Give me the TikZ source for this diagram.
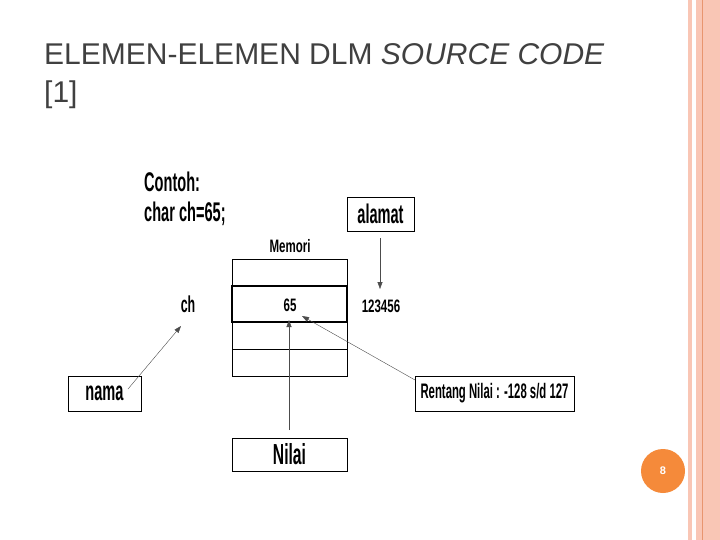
\documentclass[tikz,border=0pt]{standalone}
\usepackage{fontspec}
\setmainfont{Liberation Sans}
\newfontfamily\narrowf[FakeStretch=0.54]{Liberation Sans}
\newfontfamily\narrowg[FakeStretch=0.64]{Liberation Sans}
\definecolor{salmon}{HTML}{F9C6B5}
\definecolor{salmondk}{HTML}{E8956F}
\definecolor{pgorange}{HTML}{F58A3A}
\usetikzlibrary{arrows.meta}
\begin{document}
\begin{tikzpicture}[x=1pt,y=-1pt,
  bx/.style={draw,thick,inner sep=0pt},
  lbl/.style={font=\narrowf\bfseries\fontsize{27}{30}\selectfont,inner sep=0pt},
  sl/.style={font=\narrowg\bfseries\fontsize{18}{20}\selectfont,inner sep=0pt},
  ar/.style={draw=black!70,-{Triangle[length=7pt,width=5pt]}}]
\useasboundingbox (0,0) rectangle (720,540);
\fill[white] (0,0) rectangle (720,540);
\fill[salmon] (688,0) rectangle (692,540);
\fill[salmon] (696,0) rectangle (720,540);
\draw[salmondk,line width=0.8pt] (702,0) -- (702,540);
\node[circle,fill=pgorange,minimum size=44pt,inner sep=0pt,text=white,font=\bfseries\fontsize{11}{13}\selectfont] (pg) at (663,471) {8};
\node[anchor=base west,inner sep=0pt,text=black!75,font=\fontsize{30}{32}\selectfont] (t1) at (44,65) {ELEMEN-ELEMEN DLM \textit{SOURCE CODE}};
\node[anchor=base west,inner sep=0pt,text=black!75,font=\fontsize{30}{32}\selectfont] (t2) at (44,103) {[1]};
% memory
\node[bx,draw=black,thin,minimum width=115pt,minimum height=27pt] (m1) at (289.5,272.5) {};
\node[bx,line width=1.6pt,minimum width=115pt,minimum height=36pt] (m2) at (289.5,304) {};
\node[bx,draw=black,thin,minimum width=115pt,minimum height=27pt] (m3) at (289.5,335.5) {};
\node[bx,draw=black,thin,minimum width=115pt,minimum height=27pt] (m4) at (289.5,362.5) {};
\node[lbl,anchor=base west] (c1) at (144,192) {Contoh:};
\node[lbl,anchor=base west] (c2) at (144,222) {char ch=65;};
\node[sl] (mem) at (290,246) {Memori};
\node[lbl,font=\narrowf\bfseries\fontsize{23}{26}\selectfont] (ch) at (188,304) {ch};
\node[sl] (v65) at (290,305) {65};
\node[sl] (addr) at (381,306) {123456};
\node[bx,minimum width=67pt,minimum height=34pt,lbl] (alamat) at (380.5,214) {alamat};
\node[bx,minimum width=73pt,minimum height=35pt,lbl] (nama) at (104.5,393.5) {nama};
\node[bx,minimum width=115pt,minimum height=33pt,lbl,font=\narrowf\bfseries\fontsize{29}{31}\selectfont] (nilai) at (289.5,454.5) {Nilai};
\node[bx,minimum width=159pt,minimum height=35pt,font=\narrowf\bfseries\fontsize{21}{23}\selectfont,inner sep=0pt] (rent) at (494.5,393.5) {Rentang Nilai : -128 s/d 127};
\coordinate (a1) at (380,238); \coordinate (a2) at (380,289);
\coordinate (n1) at (128,389); \coordinate (n2) at (181,326);
\coordinate (v1) at (289,430); \coordinate (v2) at (289,320);
\coordinate (r1) at (415,380); \coordinate (r2) at (302,316);
\draw[ar] (a1) -- (a2);
\draw[ar] (n1) -- (n2);
\draw[ar] (v1) -- (v2);
\draw[ar] (r1) -- (r2);
\end{tikzpicture}
\end{document}
